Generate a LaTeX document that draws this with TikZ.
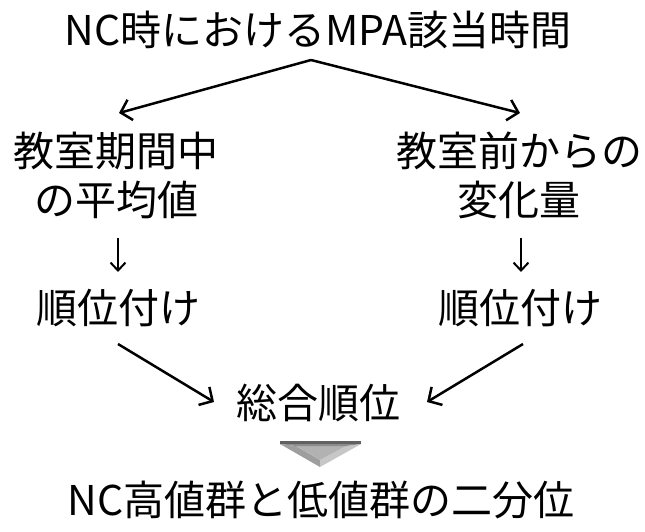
\documentclass[tikz,border=0pt]{standalone}
\usepackage{fontspec}
\setmainfont{Noto Sans CJK JP}
\usetikzlibrary{arrows.meta}
\begin{document}
\begin{tikzpicture}[x=1pt,y=-1pt,
  lbl/.style={inner sep=0pt,align=center,font=\fontsize{41}{49}\selectfont},
  conn/.style={line width=2.5pt,-{Straight Barb[length=10pt,width=21pt,line width=2.5pt]}},
  down/.style={line width=2pt,-{Straight Barb[length=8pt,width=15pt,line width=2pt]}}]
\useasboundingbox (0,0) rectangle (645,531);
\node[lbl] (title) at (318,30) {NC時におけるMPA該当時間};
\node[lbl] (l1) at (116,175) {教室期間中\\の平均値};
\node[lbl] (r1) at (519,175) {教室前からの\\変化量};
\node[lbl] (l2) at (118,308) {順位付け};
\node[lbl] (r2) at (520,308) {順位付け};
\node[lbl] (total) at (318,403) {総合順位};
\node[lbl] (result) at (321,500) {NC高値群と低値群の二分位};
\coordinate (apex) at (311,60);
\coordinate (lend) at (119,113);
\coordinate (rend) at (520,113);
\coordinate (ld0) at (118,238);
\coordinate (ld1) at (118,272);
\coordinate (rd0) at (521,238);
\coordinate (rd1) at (521,272);
\coordinate (lg0) at (118,344);
\coordinate (lg1) at (214,402);
\coordinate (rg0) at (523,344);
\coordinate (rg1) at (427,402);
\draw[conn] (apex) -- (lend);
\draw[conn] (apex) -- (rend);
\draw[down] (ld0) -- (ld1);
\draw[down] (rd0) -- (rd1);
\draw[conn] (lg0) -- (lg1);
\draw[conn] (rg0) -- (rg1);
% bevelled triangle
\coordinate (A) at (280,444);
\coordinate (B) at (361,444);
\coordinate (C) at (320,467);
\coordinate (a) at (296,446);
\coordinate (b) at (346,446);
\coordinate (c) at (320,460);
\fill[black!62] (280,441) rectangle (361,444);
\fill[black!38] (A) -- (a) -- (c) -- (C) -- cycle;
\fill[black!22] (B) -- (b) -- (c) -- (C) -- cycle;
\fill[black!30] (a) -- (b) -- (c) -- cycle;
\fill[black!45] (A) -- (B) -- (b) -- (a) -- cycle;
\end{tikzpicture}
\end{document}
